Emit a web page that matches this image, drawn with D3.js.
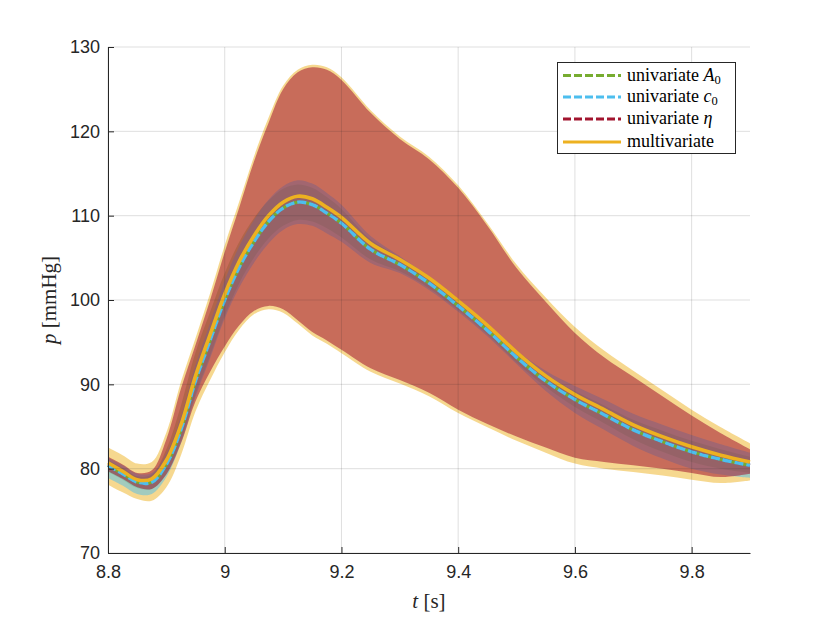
<!DOCTYPE html>
<html><head><meta charset="utf-8">
<script src="https://cdn.jsdelivr.net/npm/d3@7"></script>
<style>
body{margin:0;background:#fff;}
svg{display:block;}
</style></head>
<body>
<svg id="chart" width="830" height="623"></svg>
<script>
const t = [8.80, 8.825, 8.85, 8.875, 8.90, 8.925, 8.95, 8.975, 9.00, 9.025, 9.05, 9.075, 9.10, 9.125, 9.15, 9.175, 9.20, 9.25, 9.30, 9.35, 9.40, 9.45, 9.50, 9.55, 9.60, 9.65, 9.70, 9.75, 9.80, 9.85, 9.90];

const multiMean  = [80.7, 79.7, 78.7, 78.8, 81.0, 85.2, 91.0, 95.9, 100.7, 104.6, 107.6, 110.0, 111.6, 112.3, 112.0, 111.0, 109.8, 106.7, 104.8, 102.6, 99.9, 97.0, 93.8, 91.0, 88.8, 87.0, 85.2, 83.8, 82.6, 81.6, 80.8];
const multiUpper = [82.5, 81.6, 80.6, 80.8, 84.3, 90.3, 95.5, 100.8, 106.5, 111.7, 117.0, 121.6, 125.4, 127.3, 127.9, 127.6, 126.4, 122.5, 119.4, 117.0, 113.6, 109.1, 104.2, 100.3, 96.8, 94.0, 91.6, 89.3, 87.0, 84.9, 83.0];
const multiLower = [78.1, 77.2, 76.4, 76.2, 77.8, 81.6, 86.8, 90.5, 93.8, 96.5, 98.3, 98.9, 98.5, 97.2, 95.8, 94.8, 93.7, 91.5, 90.1, 88.6, 86.6, 84.9, 83.3, 81.9, 80.6, 80.0, 79.6, 79.2, 78.7, 78.3, 78.6];

const uniMean    = [80.4, 79.4, 78.4, 78.4, 80.5, 84.6, 90.4, 95.2, 100.0, 103.9, 106.9, 109.3, 110.9, 111.6, 111.3, 110.3, 109.1, 106.0, 104.2, 102.0, 99.3, 96.4, 93.2, 90.4, 88.2, 86.4, 84.6, 83.2, 82.0, 81.1, 80.4];

const etaUpper   = [81.4, 80.5, 79.5, 79.8, 83.5, 89.5, 94.7, 100.0, 105.7, 111.0, 116.4, 121.0, 125.0, 127.0, 127.6, 127.3, 126.1, 122.2, 119.1, 116.7, 113.3, 108.8, 103.8, 99.8, 96.1, 93.2, 90.9, 88.6, 86.3, 84.2, 82.3];
const etaLower   = [79.7, 78.8, 77.8, 77.6, 79.3, 83.0, 88.0, 91.5, 94.5, 97.0, 98.7, 99.3, 98.9, 97.6, 96.2, 95.2, 94.1, 91.9, 90.5, 89.0, 87.0, 85.3, 83.8, 82.5, 81.3, 80.8, 80.4, 80.0, 79.5, 79.0, 79.4];

const c0Upper    = [81.3, 80.4, 79.4, 79.5, 81.8, 86.2, 92.3, 97.3, 102.3, 106.4, 109.5, 111.9, 113.5, 114.2, 113.8, 112.7, 111.3, 107.6, 105.2, 102.8, 100.0, 97.1, 94.0, 91.6, 89.8, 88.2, 86.5, 85.2, 84.0, 82.9, 81.9];
const c0Lower    = [78.9, 78.0, 77.0, 77.0, 79.0, 83.0, 88.5, 93.1, 97.8, 101.5, 104.4, 106.7, 108.3, 109.0, 108.8, 107.9, 106.9, 104.4, 103.2, 101.2, 98.6, 95.7, 92.4, 89.2, 86.6, 84.6, 82.7, 81.2, 80.0, 79.3, 78.9];

const a0Upper    = [81.0, 80.1, 79.1, 79.3, 82.3, 87.5, 93.8, 98.6, 103.2, 106.9, 109.7, 111.8, 113.2, 113.7, 113.3, 112.2, 110.8, 107.2, 105.0, 102.6, 99.8, 96.9, 93.8, 91.2, 89.2, 87.5, 85.8, 84.5, 83.3, 82.3, 81.4];
const a0Lower    = [79.6, 78.7, 77.7, 77.6, 79.4, 83.3, 88.8, 93.4, 98.1, 102.0, 105.0, 107.3, 108.8, 109.5, 109.3, 108.5, 107.4, 104.8, 103.4, 101.4, 98.8, 95.9, 92.6, 89.7, 87.3, 85.4, 83.5, 82.0, 80.8, 80.0, 79.5];

const xTicks = [8.8, 9, 9.2, 9.4, 9.6, 9.8];
const yTicks = [70, 80, 90, 100, 110, 120, 130];
const legendLabels = ["univariate A0", "univariate c0", "univariate η", "multivariate"];

const svg = d3.select("#chart");
const x = d3.scaleLinear().domain([8.8, 9.9]).range([108, 750]);
const y = d3.scaleLinear().domain([70, 130]).range([553, 47]);
const axisCol = "#262626";

const curve = d3.curveCatmullRom.alpha(0.5);
function band(lo, hi){
  return d3.area().x((d,i)=>x(t[i])).y0((d,i)=>y(lo[i])).y1((d,i)=>y(hi[i])).curve(curve)(t);
}
function line(v){
  return d3.line().x((d,i)=>x(t[i])).y((d,i)=>y(v[i])).curve(curve)(t);
}

const plot = svg.append("g");
plot.append("path").attr("d", band(multiLower, multiUpper)).attr("fill", "#EDB120").attr("fill-opacity", 0.5);
plot.append("path").attr("d", band(a0Lower, a0Upper)).attr("fill", "#77AC30").attr("fill-opacity", 0.4);
plot.append("path").attr("d", band(c0Lower, c0Upper)).attr("fill", "#4DBEEE").attr("fill-opacity", 0.5);
plot.append("path").attr("d", band(etaLower, etaUpper)).attr("fill", "#A2142F").attr("fill-opacity", 0.55);

plot.append("path").attr("d", line(uniMean)).attr("fill","none").attr("stroke","#A2142F").attr("stroke-width",3).attr("stroke-dasharray","8,4");
plot.append("path").attr("d", line(uniMean)).attr("fill","none").attr("stroke","#77AC30").attr("stroke-width",3).attr("stroke-dasharray","8,4").attr("stroke-dashoffset", 6);
plot.append("path").attr("d", line(uniMean)).attr("fill","none").attr("stroke","#4DBEEE").attr("stroke-width",3.4).attr("stroke-dasharray","9,3");
plot.append("path").attr("d", line(multiMean)).attr("fill","none").attr("stroke","#EDB120").attr("stroke-width",3.6);

// grid (on top, MATLAB style)
const grid = svg.append("g").attr("stroke", axisCol).attr("stroke-opacity", 0.15).attr("stroke-width", 1);
xTicks.forEach(v=>{ grid.append("line").attr("x1",x(v)).attr("x2",x(v)).attr("y1",y(70)).attr("y2",y(130)); });
yTicks.forEach(v=>{ grid.append("line").attr("x1",x(8.8)).attr("x2",x(9.9)).attr("y1",y(v)).attr("y2",y(v)); });

// axes
const xAxis = d3.axisBottom(x).tickValues(xTicks).tickSizeInner(-6).tickSizeOuter(0).tickPadding(12).tickFormat(d=>d3.format("")(+d.toFixed(1)));
const yAxis = d3.axisLeft(y).tickValues(yTicks).tickSizeInner(-6).tickSizeOuter(0).tickPadding(8);
const gx = svg.append("g").attr("transform", `translate(0,${y(70)})`).call(xAxis);
const gy = svg.append("g").attr("transform", `translate(${x(8.8)},0)`).call(yAxis);
[gx, gy].forEach(g=>{
  g.select(".domain").attr("stroke", axisCol);
  g.selectAll(".tick line").attr("stroke", axisCol);
  g.selectAll("text").attr("fill", axisCol).attr("font-family", "'Liberation Sans', Arial, sans-serif").attr("font-size", 18);
});

// axis labels
const serif = "'Liberation Serif', 'DejaVu Serif', serif";
const xl = svg.append("text").attr("x", 429).attr("y", 608).attr("text-anchor","middle").attr("font-family", serif).attr("font-size", 21).attr("fill", axisCol);
xl.append("tspan").attr("font-style","italic").text("t");
xl.append("tspan").text(" [s]");
const yl = svg.append("text").attr("transform","translate(56,300) rotate(-90)").attr("text-anchor","middle").attr("font-family", serif).attr("font-size", 21).attr("fill", axisCol);
yl.append("tspan").attr("font-style","italic").text("p");
yl.append("tspan").text(" [mmHg]");

// legend
const lg = svg.append("g");
lg.append("rect").attr("x",557.5).attr("y",62.5).attr("width",178).attr("height",91).attr("fill","#fff").attr("stroke",axisCol).attr("stroke-width",1);
const legendStyle = [
  {c:"#77AC30", dash:"8,3"},
  {c:"#4DBEEE", dash:"8,3"},
  {c:"#A2142F", dash:"8,3"},
  {c:"#EDB120", dash:null}
];
const rowsY = [75.5, 97, 119, 142];
legendLabels.forEach((lab,i)=>{
  const ln = lg.append("line").attr("x1",563).attr("x2",621).attr("y1",rowsY[i]).attr("y2",rowsY[i]).attr("stroke",legendStyle[i].c).attr("stroke-width",2.8);
  if(legendStyle[i].dash) ln.attr("stroke-dasharray", legendStyle[i].dash);
  const tx = lg.append("text").attr("x",627).attr("y",rowsY[i]+5).attr("font-family",serif).attr("font-size",18).attr("fill","#000");
  if(i===0){ tx.append("tspan").text("univariate "); tx.append("tspan").attr("font-style","italic").text("A"); tx.append("tspan").attr("font-size",12.5).attr("dy",3).text("0"); }
  else if(i===1){ tx.append("tspan").text("univariate "); tx.append("tspan").attr("font-style","italic").text("c"); tx.append("tspan").attr("font-size",12.5).attr("dy",3).text("0"); }
  else if(i===2){ tx.append("tspan").text("univariate "); tx.append("tspan").attr("font-style","italic").text("η"); }
  else { tx.text(lab); }
});
</script>
</body></html>
